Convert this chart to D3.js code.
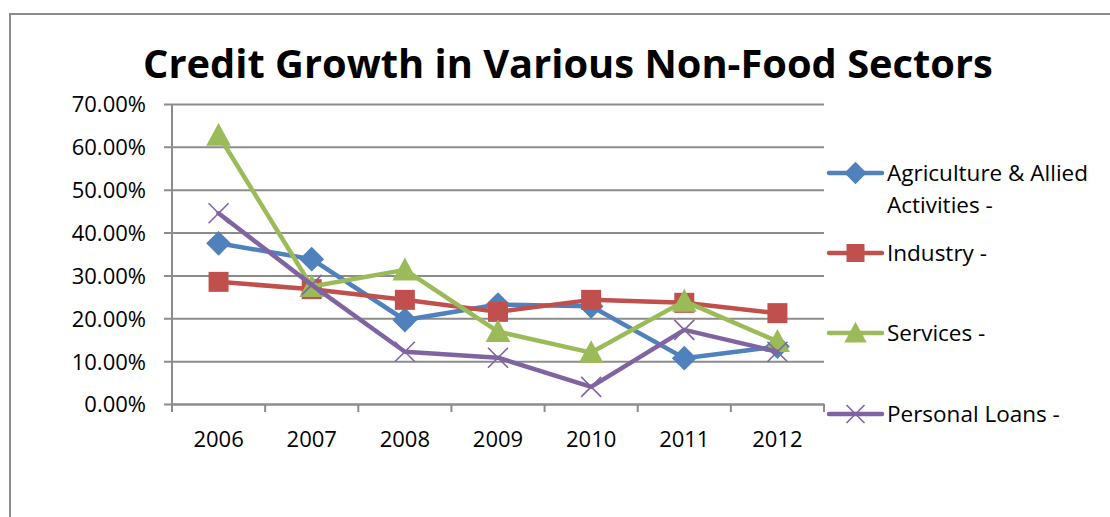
<!DOCTYPE html>
<html>
<head>
<meta charset="utf-8">
<script src="https://cdn.jsdelivr.net/npm/d3@7"></script>
<style>
  html, body { margin: 0; padding: 0; background: #fff; }
  svg { display: block; }
  text { font-family: "Open Sans", sans-serif; fill: #000; }
</style>
</head>
<body>
<svg id="chart" width="1110" height="517"></svg>
<script>
// ---- data ----
const title = "Credit Growth in Various Non-Food Sectors";
const years = ["2006", "2007", "2008", "2009", "2010", "2011", "2012"];
const yTicks = [0, 0.1, 0.2, 0.3, 0.4, 0.5, 0.6, 0.7];
const seriesNames = ["Agriculture & Allied Activities -", "Industry -", "Services -", "Personal Loans -"];
const agriculture = [0.375, 0.338, 0.196, 0.232, 0.228, 0.107, 0.134];
const industry    = [0.285, 0.268, 0.243, 0.215, 0.243, 0.236, 0.212];
const services    = [0.627, 0.274, 0.313, 0.169, 0.120, 0.240, 0.146];
const personal    = [0.445, 0.278, 0.122, 0.108, 0.040, 0.173, 0.122];

const seriesValues = [agriculture, industry, services, personal];
const colors = ["#4F81BD", "#C0504D", "#9BBB59", "#8064A2"];
const markers = ["diamond", "square", "triangle", "x"];

const svg = d3.select("#chart");

// outer chart border (clipped by window on right/bottom)
svg.append("path")
  .attr("d", "M10,530 L10,14 L1120,14")
  .attr("fill", "none").attr("stroke", "#8c8c8c").attr("stroke-width", 2);

const plot = { left: 172, right: 824, top: 104, bottom: 404 };

const x = d3.scaleBand().domain(years).range([plot.left, plot.right]);
const y = d3.scaleLinear().domain([0, 0.7]).range([plot.bottom, plot.top]);

// gridlines + y axis
const yAxis = d3.axisLeft(y).tickValues(yTicks)
  .tickFormat(d => (d * 100).toFixed(2) + "%")
  .tickSize(-(plot.right - plot.left)).tickPadding(26);
const gy = svg.append("g").attr("transform", `translate(${plot.left},0)`).call(yAxis);
gy.select(".domain").remove();
gy.selectAll(".tick line").attr("stroke", "#8c8c8c").attr("stroke-width", 2).attr("x2", plot.right - plot.left).attr("x1", -8);
gy.selectAll(".tick text").attr("font-size", 22).attr("font-family", "Open Sans").attr("fill", "#000").attr("dy", "0.36em");

// y axis line
svg.append("line").attr("x1", plot.left).attr("x2", plot.left)
  .attr("y1", plot.top).attr("y2", plot.bottom + 8)
  .attr("stroke", "#8c8c8c").attr("stroke-width", 2);

// x axis
const xAxis = d3.axisBottom(x).tickSize(0).tickPadding(0);
const gx = svg.append("g").attr("transform", `translate(0,${plot.bottom})`).call(xAxis);
gx.select(".domain").attr("stroke", "#8c8c8c").attr("stroke-width", 2);
gx.selectAll(".tick text").attr("font-size", 22).attr("font-family", "Open Sans").attr("fill", "#000").attr("y", 43).attr("dy", 0);
// boundary ticks
const bounds = years.map(d => x(d)).concat([x(years[years.length - 1]) + x.bandwidth()]);
svg.append("g").selectAll("line").data(bounds).join("line")
  .attr("x1", d => d).attr("x2", d => d)
  .attr("y1", plot.bottom).attr("y2", plot.bottom + 8)
  .attr("stroke", "#8c8c8c").attr("stroke-width", 2);

// marker drawing
function drawMarker(g, type, cx, cy, color, s) {
  if (type === "diamond") {
    const r = s * 0.62;
    g.append("path").attr("d", `M${cx},${cy - r} L${cx + r},${cy} L${cx},${cy + r} L${cx - r},${cy} Z`).attr("fill", color);
  } else if (type === "square") {
    const r = s * 0.5;
    g.append("rect").attr("x", cx - r).attr("y", cy - r).attr("width", 2 * r).attr("height", 2 * r).attr("fill", color);
  } else if (type === "triangle") {
    const r = s * 0.62;
    g.append("path").attr("d", `M${cx},${cy - r} L${cx + r},${cy + r * 0.85} L${cx - r},${cy + r * 0.85} Z`).attr("fill", color);
  } else if (type === "x") {
    const r = s * 0.5;
    g.append("path").attr("d", `M${cx - r},${cy - r} L${cx + r},${cy + r} M${cx - r},${cy + r} L${cx + r},${cy - r}`)
      .attr("stroke", color).attr("stroke-width", 1.6).attr("fill", "none");
  }
}

const line = d3.line().x((d, i) => x(years[i]) + x.bandwidth() / 2).y(d => y(d));

seriesValues.forEach((vals, k) => {
  const g = svg.append("g");
  g.append("path").datum(vals).attr("d", line)
    .attr("fill", "none").attr("stroke", colors[k]).attr("stroke-width", 4.5)
    .attr("stroke-linejoin", "round").attr("stroke-linecap", "round");
  vals.forEach((v, i) => drawMarker(g, markers[k], x(years[i]) + x.bandwidth() / 2, y(v), colors[k], 20));
});

// legend
const legendY = [173, 253, 333, 414];
const leg = svg.append("g");
seriesNames.forEach((name, k) => {
  const ly = legendY[k];
  leg.append("line").attr("x1", 829).attr("x2", 882).attr("y1", ly).attr("y2", ly)
    .attr("stroke", colors[k]).attr("stroke-width", 4.5).attr("stroke-linecap", "round");
  drawMarker(leg, markers[k], 855.5, ly, colors[k], 18);
  const t = leg.append("text").attr("x", 887).attr("y", ly + 8).attr("font-size", 22.5);
  if (k === 0) {
    t.append("tspan").attr("x", 887).text("Agriculture & Allied");
    t.append("tspan").attr("x", 887).attr("dy", 32).text("Activities -");
  } else {
    t.text(name);
  }
});

// title
const tt = svg.append("text").attr("x", 568).attr("y", 78).attr("text-anchor", "middle")
  .attr("font-size", 40).attr("font-weight", "bold").text(title);
const w = tt.node().getComputedTextLength();
tt.attr("font-size", 40 * 850 / w);
</script>
</body>
</html>
